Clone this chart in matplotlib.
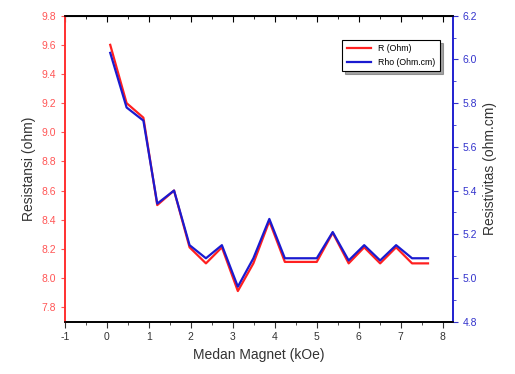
import numpy as np
import matplotlib.pyplot as plt
from matplotlib.ticker import MultipleLocator

plt.rcParams['font.family'] = ['Liberation Sans', 'DejaVu Sans']
plt.rcParams['axes.unicode_minus'] = False

# medan magnet (kOe)
H = [0.08, 0.47, 0.87, 1.20, 1.60, 1.97, 2.36, 2.74, 3.12, 3.49, 3.87,
     4.24, 4.62, 5.00, 5.38, 5.76, 6.13, 6.51, 6.89, 7.27, 7.65]
# resistansi (ohm)
R = [9.60, 9.20, 9.10, 8.50, 8.60, 8.21, 8.10, 8.21, 7.91, 8.10, 8.39,
     8.11, 8.11, 8.11, 8.31, 8.10, 8.21, 8.10, 8.21, 8.10, 8.10]
# resistivitas (ohm.cm)
Rho = [6.03, 5.78, 5.72, 5.34, 5.40, 5.15, 5.09, 5.15, 4.96, 5.09, 5.27,
       5.09, 5.09, 5.09, 5.21, 5.08, 5.15, 5.08, 5.15, 5.09, 5.09]

fig = plt.figure(figsize=(5.15, 3.74), dpi=100)
ax = fig.add_axes([0.126, 0.14, 0.754, 0.818])
ax2 = ax.twinx()

l1, = ax.plot(H, R, color='#ff2020', lw=1.6, label='R (Ohm)')
l2, = ax2.plot(H, Rho, color='#1a1ad0', lw=1.6, label='Rho (Ohm.cm)')

ax.set_xlim(-1, 8.25)
ax.set_ylim(7.7, 9.8)
ax2.set_ylim(4.8, 6.2)

ax.xaxis.set_major_locator(MultipleLocator(1))
ax.xaxis.set_minor_locator(MultipleLocator(0.5))
ax.yaxis.set_major_locator(MultipleLocator(0.2))
ax2.yaxis.set_major_locator(MultipleLocator(0.2))
ax2.yaxis.set_minor_locator(MultipleLocator(0.1))

ax.tick_params(axis='x', which='both', direction='out', labelsize=7.5,
               colors='#333333')
ax.tick_params(axis='x', which='major', length=4)
ax.tick_params(axis='x', which='minor', length=2)
ax.tick_params(axis='y', direction='out', length=3, labelsize=7.5,
               colors='#ff5555')
ax2.tick_params(axis='y', which='both', direction='out', labelsize=7.5,
                colors='#3333cc')
ax2.tick_params(axis='y', which='minor', length=2)

top = ax.secondary_xaxis('top')
top.xaxis.set_major_locator(MultipleLocator(1))
top.xaxis.set_minor_locator(MultipleLocator(0.5))
top.tick_params(axis='x', which='both', direction='in', labeltop=False)
top.tick_params(axis='x', which='major', length=4)
top.tick_params(axis='x', which='minor', length=2)

ax2.spines['left'].set_color('#ff3030')
ax2.spines['right'].set_color('#2020d0')
for a in (ax, ax2):
    for s in a.spines.values():
        s.set_linewidth(1.2)
ax.spines['left'].set_color('#ff3030')
ax.spines['right'].set_color('#2020d0')

ax.set_xlabel('Medan Magnet (kOe)', fontsize=10, color='#333333')
ax.set_ylabel('Resistansi (ohm)', fontsize=10, color='#333333')
ax2.set_ylabel('Resistivitas (ohm.cm)', fontsize=10, color='#333333')

leg = ax2.legend(handles=[l1, l2], loc='upper right',
                 bbox_to_anchor=(0.977, 0.935), fontsize=6.3,
                 fancybox=False, shadow=True, edgecolor='black',
                 handlelength=2.8, borderpad=0.5)
leg.get_frame().set_linewidth(0.8)

plt.savefig('out.png', dpi=100)
